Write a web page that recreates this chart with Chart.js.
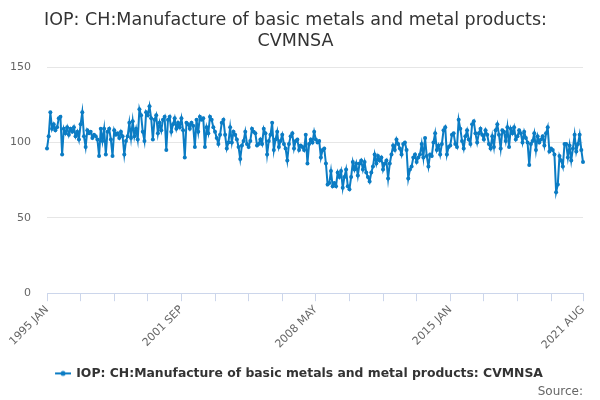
<!DOCTYPE html>
<html>
<head>
<meta charset="utf-8">
<script src="https://cdn.jsdelivr.net/npm/chart.js@4.4.0/dist/chart.umd.min.js"></script>
<style>
  html, body { margin: 0; padding: 0; background: #fff; }
  #wrap { width: 600px; height: 400px; }
</style>
</head>
<body>
<div id="wrap"><canvas id="chart"></canvas></div>
<script>
// Monthly index, 1995 JAN .. 2021 AUG (one row per year)
const iopValues = [
  96, 104, 120, 109, 112, 108, 110, 116, 117, 92, 109, 106,   // 1995
  110, 105, 109, 107, 110, 104, 107, 102, 112, 120, 104, 97,  // 1996
  108, 106, 107, 103, 105, 104, 102, 91, 109, 101, 109, 92,   // 1997
  107, 109, 102, 91, 108, 105, 106, 103, 107, 104, 92, 101,   // 1998
  104, 113, 103, 114, 104, 109, 102, 122, 118, 107, 101, 120, // 1999
  118, 124, 116, 102, 115, 118, 106, 113, 108, 115, 117, 95,  // 2000
  115, 117, 107, 112, 116, 109, 113, 110, 116, 108, 90, 113,  // 2001
  112, 109, 113, 111, 97, 115, 107, 117, 115, 116, 97, 110,   // 2002
  106, 117, 115, 110, 107, 103, 99, 105, 113, 115, 105, 96,   // 2003
  100, 110, 100, 107, 105, 102, 97, 89, 98, 101, 107, 99,     // 2004
  97, 101, 109, 107, 106, 98, 99, 102, 99, 109, 106, 92,      // 2005
  101, 105, 113, 95, 102, 107, 97, 101, 105, 99, 96, 88,      // 2006
  99, 104, 106, 96, 101, 102, 95, 98, 97, 95, 105, 86,        // 2007
  99, 102, 100, 107, 102, 100, 101, 90, 95, 96, 86, 72,       // 2008
  73, 81, 71, 73, 71, 80, 77, 81, 70, 77, 82, 71,             // 2009
  69, 77, 87, 82, 86, 78, 86, 88, 82, 87, 80, 77,             // 2010
  74, 80, 84, 92, 86, 91, 88, 90, 82, 86, 88, 76,             // 2011
  86, 92, 98, 95, 102, 99, 96, 92, 99, 100, 95, 76,           // 2012
  82, 84, 90, 92, 87, 90, 92, 99, 90, 103, 91, 84,            // 2013
  92, 91, 100, 106, 95, 98, 92, 99, 108, 110, 92, 97,         // 2014
  98, 105, 106, 99, 97, 115, 109, 101, 96, 104, 108, 102,     // 2015
  99, 112, 114, 106, 100, 106, 109, 105, 102, 108, 105, 99,   // 2016
  96, 104, 97, 108, 112, 105, 96, 108, 107, 101, 110, 97,     // 2017
  109, 106, 110, 102, 104, 108, 106, 100, 107, 103, 100, 85,  // 2018
  99, 101, 106, 95, 104, 100, 102, 104, 98, 106, 110, 94,     // 2019
  96, 95, 92, 67, 72, 91, 88, 84, 99, 99, 90, 98,             // 2020
  88, 96, 105, 94, 99, 105, 95, 87                            // 2021
];
const monthNames = ['JAN', 'FEB', 'MAR', 'APR', 'MAY', 'JUN', 'JUL', 'AUG', 'SEP', 'OCT', 'NOV', 'DEC'];
const firstYear = 1995;
const tickLabels = ['1995 JAN', '2001 SEP', '2008 MAY', '2015 JAN', '2021 AUG'];
const yTicks = [0, 50, 100, 150];
const seriesName = 'IOP: CH:Manufacture of basic metals and metal products: CVMNSA';
const titleLines = ['IOP: CH:Manufacture of basic metals and metal products:', 'CVMNSA'];

// categories: one label per month
const categories = iopValues.map((v, i) => (firstYear + Math.floor(i / 12)) + ' ' + monthNames[i % 12]);

const lineColor = '#0b7cc4';

// legend symbol: short line with a dot (left part left empty as spacing)
const legendIcon = document.createElement('canvas');
legendIcon.width = 24;
legendIcon.height = 8;
{
  const c = legendIcon.getContext('2d');
  c.strokeStyle = lineColor;
  c.lineWidth = 2;
  c.beginPath(); c.moveTo(8, 4); c.lineTo(24, 4); c.stroke();
  c.fillStyle = lineColor;
  c.beginPath(); c.arc(16, 4, 2.5, 0, Math.PI * 2); c.fill();
}

Chart.defaults.font.family = '"DejaVu Sans", sans-serif';

const ctx = document.getElementById('chart').getContext('2d');
const chart = new Chart(ctx, {
  type: 'line',
  data: {
    labels: categories,
    datasets: [{
      label: seriesName,
      data: iopValues,
      borderColor: lineColor,
      backgroundColor: lineColor,
      borderWidth: 2,
      pointRadius: 2,
      pointBorderWidth: 0,
      pointBackgroundColor: lineColor,
      tension: 0
    }]
  },
  options: {
    responsive: true,
    maintainAspectRatio: false,
    animation: false,
    layout: { padding: { left: 8, right: 17, top: 0, bottom: 1 } },
    plugins: {
      title: {
        display: true,
        text: titleLines,
        color: '#333333',
        font: { size: 17.5, weight: 'normal' },
        lineHeight: 1.2,
        padding: { top: 10, bottom: 15 }
      },
      subtitle: {
        display: true,
        text: 'Source:',
        position: 'bottom',
        align: 'end',
        color: '#666666',
        font: { size: 12, weight: 'normal' },
        padding: { top: -5, bottom: 0 }
      },
      legend: {
        position: 'bottom',
        labels: {
          usePointStyle: true,
          pointStyle: legendIcon,
          pointStyleWidth: 22,
          color: '#333333',
          font: { size: 12.4, weight: 'bold' },
          padding: 0
        }
      },
      tooltip: { enabled: false }
    },
    scales: {
      x: {
        type: 'category',
        offset: false,
        grid: {
          display: true,
          drawOnChartArea: false,
          drawTicks: true,
          tickLength: 8,
          color: '#ccd6eb'
        },
        border: { display: true, color: '#ccd6eb' },
        afterBuildTicks: scale => {
          const idx = [];
          for (let i = 0; i < categories.length - 1; i += 20) idx.push(i);
          idx.push(categories.length - 1);
          scale.ticks = idx.map(v => ({ value: v }));
        },
        afterFit: scale => {
          scale.paddingLeft = 0;
          scale.paddingRight = 0;
          scale.height = 74;
        },
        ticks: {
          autoSkip: false,
          minRotation: 45,
          maxRotation: 45,
          color: '#666666',
          font: { size: 11 },
          padding: 2,
          callback: function (value) {
            const l = this.getLabelForValue(value);
            return tickLabels.includes(l) ? l : '';
          }
        }
      },
      y: {
        min: 0,
        max: 150,
        afterBuildTicks: scale => {
          scale.ticks = yTicks.map(v => ({ value: v }));
        },
        afterFit: scale => {
          scale.width = 39;
        },
        grid: { color: '#e6e6e6', drawTicks: false },
        border: { display: false },
        ticks: {
          color: '#666666',
          font: { size: 11 },
          padding: 16
        }
      }
    }
  }
});
</script>
</body>
</html>
